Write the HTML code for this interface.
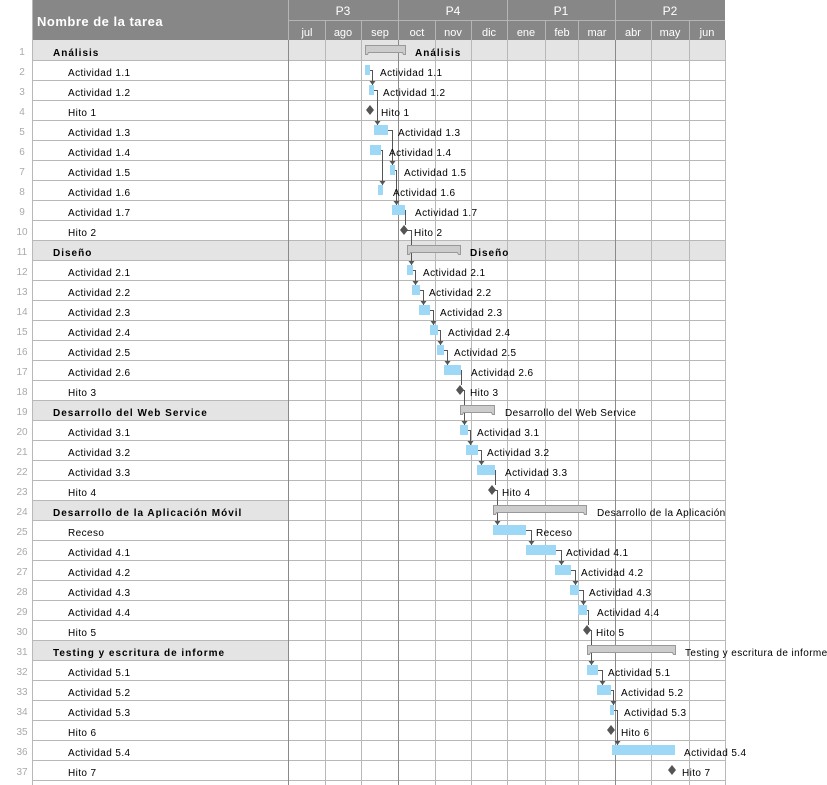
<!DOCTYPE html>
<html><head><meta charset="utf-8"><style>
html,body{margin:0;padding:0;background:#fff;}
svg{display:block;}
text{font-family:"Liberation Sans",sans-serif;}
.n{font-size:10px;fill:#aaa;text-anchor:middle;}
.t{font-size:10px;fill:#000;letter-spacing:0.4px;}
.g{font-size:10px;fill:#000;font-weight:bold;letter-spacing:1px;}
.l{font-size:10px;fill:#000;letter-spacing:0.4px;}
.b{fill:#9dd9f6;}
.s{fill:#cccccc;stroke:#999;stroke-width:1;}
.c{fill:none;stroke:#555;stroke-width:1;}
.a{fill:#555;}
.d{fill:#555;}
</style></head><body>
<svg width="827" height="785" viewBox="0 0 827 785" xmlns="http://www.w3.org/2000/svg">
<rect x="32" y="0" width="693" height="40" fill="#878787"/>
<g stroke="#b5b5b5" stroke-width="1">
<line x1="288" y1="20.5" x2="725" y2="20.5"/>
<line x1="288.5" y1="0" x2="288.5" y2="40"/>
<line x1="398.5" y1="0" x2="398.5" y2="40"/>
<line x1="507.5" y1="0" x2="507.5" y2="40"/>
<line x1="615.5" y1="0" x2="615.5" y2="40"/>
<line x1="325.5" y1="20" x2="325.5" y2="40"/>
<line x1="361.5" y1="20" x2="361.5" y2="40"/>
<line x1="435.5" y1="20" x2="435.5" y2="40"/>
<line x1="471.5" y1="20" x2="471.5" y2="40"/>
<line x1="545.5" y1="20" x2="545.5" y2="40"/>
<line x1="578.5" y1="20" x2="578.5" y2="40"/>
<line x1="651.5" y1="20" x2="651.5" y2="40"/>
<line x1="689.5" y1="20" x2="689.5" y2="40"/>
</g>
<text x="37" y="26" fill="#fff" font-size="13" font-weight="bold" letter-spacing="0.5">Nombre de la tarea</text>
<g fill="#fff" font-size="12" text-anchor="middle">
<text x="343" y="15">P3</text><text x="453" y="15">P4</text><text x="561" y="15">P1</text><text x="670" y="15">P2</text>
</g>
<g fill="#fff" font-size="11" text-anchor="middle">
<text x="307" y="36">jul</text><text x="343" y="36">ago</text><text x="380" y="36">sep</text><text x="417" y="36">oct</text><text x="453" y="36">nov</text><text x="489" y="36">dic</text><text x="526" y="36">ene</text><text x="562" y="36">feb</text><text x="597" y="36">mar</text><text x="633" y="36">abr</text><text x="670" y="36">may</text><text x="707" y="36">jun</text>
</g>
<rect x="32" y="40" width="693" height="20" fill="#e4e4e4"/>
<rect x="32" y="240" width="693" height="20" fill="#e4e4e4"/>
<rect x="32" y="400" width="256" height="20" fill="#e4e4e4"/>
<rect x="32" y="500" width="256" height="20" fill="#e4e4e4"/>
<rect x="32" y="640" width="256" height="20" fill="#e4e4e4"/>
<g stroke="#b8b8b8" stroke-width="1">
<line x1="32" y1="60.5" x2="725" y2="60.5"/><line x1="32" y1="80.5" x2="725" y2="80.5"/><line x1="32" y1="100.5" x2="725" y2="100.5"/><line x1="32" y1="120.5" x2="725" y2="120.5"/><line x1="32" y1="140.5" x2="725" y2="140.5"/><line x1="32" y1="160.5" x2="725" y2="160.5"/><line x1="32" y1="180.5" x2="725" y2="180.5"/><line x1="32" y1="200.5" x2="725" y2="200.5"/><line x1="32" y1="220.5" x2="725" y2="220.5"/><line x1="32" y1="240.5" x2="725" y2="240.5"/><line x1="32" y1="260.5" x2="725" y2="260.5"/><line x1="32" y1="280.5" x2="725" y2="280.5"/><line x1="32" y1="300.5" x2="725" y2="300.5"/><line x1="32" y1="320.5" x2="725" y2="320.5"/><line x1="32" y1="340.5" x2="725" y2="340.5"/><line x1="32" y1="360.5" x2="725" y2="360.5"/><line x1="32" y1="380.5" x2="725" y2="380.5"/><line x1="32" y1="400.5" x2="725" y2="400.5"/><line x1="32" y1="420.5" x2="725" y2="420.5"/><line x1="32" y1="440.5" x2="725" y2="440.5"/><line x1="32" y1="460.5" x2="725" y2="460.5"/><line x1="32" y1="480.5" x2="725" y2="480.5"/><line x1="32" y1="500.5" x2="725" y2="500.5"/><line x1="32" y1="520.5" x2="725" y2="520.5"/><line x1="32" y1="540.5" x2="725" y2="540.5"/><line x1="32" y1="560.5" x2="725" y2="560.5"/><line x1="32" y1="580.5" x2="725" y2="580.5"/><line x1="32" y1="600.5" x2="725" y2="600.5"/><line x1="32" y1="620.5" x2="725" y2="620.5"/><line x1="32" y1="640.5" x2="725" y2="640.5"/><line x1="32" y1="660.5" x2="725" y2="660.5"/><line x1="32" y1="680.5" x2="725" y2="680.5"/><line x1="32" y1="700.5" x2="725" y2="700.5"/><line x1="32" y1="720.5" x2="725" y2="720.5"/><line x1="32" y1="740.5" x2="725" y2="740.5"/><line x1="32" y1="760.5" x2="725" y2="760.5"/><line x1="32" y1="780.5" x2="725" y2="780.5"/>
</g>
<g stroke="#b8b8b8" stroke-width="1">
<line x1="325.5" y1="40" x2="325.5" y2="785"/><line x1="361.5" y1="40" x2="361.5" y2="785"/><line x1="435.5" y1="40" x2="435.5" y2="785"/><line x1="471.5" y1="40" x2="471.5" y2="785"/><line x1="545.5" y1="40" x2="545.5" y2="785"/><line x1="578.5" y1="40" x2="578.5" y2="785"/><line x1="651.5" y1="40" x2="651.5" y2="785"/><line x1="689.5" y1="40" x2="689.5" y2="785"/><line x1="725.5" y1="40" x2="725.5" y2="785"/>
<line x1="507.5" y1="40" x2="507.5" y2="785"/>
<line x1="32.5" y1="0" x2="32.5" y2="785"/>
</g>
<g stroke="#8a8a8a" stroke-width="1">
<line x1="288.5" y1="40" x2="288.5" y2="785"/>
<line x1="398.5" y1="40" x2="398.5" y2="785"/>
<line x1="615.5" y1="40" x2="615.5" y2="785"/>
</g>
<g class="n" transform="translate(0,1)">
<text x="22" y="54">1</text><text x="22" y="74">2</text><text x="22" y="94">3</text><text x="22" y="114">4</text><text x="22" y="134">5</text><text x="22" y="154">6</text><text x="22" y="174">7</text><text x="22" y="194">8</text><text x="22" y="214">9</text><text x="22" y="234">10</text><text x="22" y="254">11</text><text x="22" y="274">12</text><text x="22" y="294">13</text><text x="22" y="314">14</text><text x="22" y="334">15</text><text x="22" y="354">16</text><text x="22" y="374">17</text><text x="22" y="394">18</text><text x="22" y="414">19</text><text x="22" y="434">20</text><text x="22" y="454">21</text><text x="22" y="474">22</text><text x="22" y="494">23</text><text x="22" y="514">24</text><text x="22" y="534">25</text><text x="22" y="554">26</text><text x="22" y="574">27</text><text x="22" y="594">28</text><text x="22" y="614">29</text><text x="22" y="634">30</text><text x="22" y="654">31</text><text x="22" y="674">32</text><text x="22" y="694">33</text><text x="22" y="714">34</text><text x="22" y="734">35</text><text x="22" y="754">36</text><text x="22" y="774">37</text>
</g>
<g transform="translate(0,1)">
<text class="g" x="53" y="55">Análisis</text>
<text class="t" x="68" y="75">Actividad 1.1</text>
<text class="t" x="68" y="95">Actividad 1.2</text>
<text class="t" x="68" y="115">Hito 1</text>
<text class="t" x="68" y="135">Actividad 1.3</text>
<text class="t" x="68" y="155">Actividad 1.4</text>
<text class="t" x="68" y="175">Actividad 1.5</text>
<text class="t" x="68" y="195">Actividad 1.6</text>
<text class="t" x="68" y="215">Actividad 1.7</text>
<text class="t" x="68" y="235">Hito 2</text>
<text class="g" x="53" y="255">Diseño</text>
<text class="t" x="68" y="275">Actividad 2.1</text>
<text class="t" x="68" y="295">Actividad 2.2</text>
<text class="t" x="68" y="315">Actividad 2.3</text>
<text class="t" x="68" y="335">Actividad 2.4</text>
<text class="t" x="68" y="355">Actividad 2.5</text>
<text class="t" x="68" y="375">Actividad 2.6</text>
<text class="t" x="68" y="395">Hito 3</text>
<text class="g" x="53" y="415">Desarrollo del Web Service</text>
<text class="t" x="68" y="435">Actividad 3.1</text>
<text class="t" x="68" y="455">Actividad 3.2</text>
<text class="t" x="68" y="475">Actividad 3.3</text>
<text class="t" x="68" y="495">Hito 4</text>
<text class="g" x="53" y="515">Desarrollo de la Aplicación Móvil</text>
<text class="t" x="68" y="535">Receso</text>
<text class="t" x="68" y="555">Actividad 4.1</text>
<text class="t" x="68" y="575">Actividad 4.2</text>
<text class="t" x="68" y="595">Actividad 4.3</text>
<text class="t" x="68" y="615">Actividad 4.4</text>
<text class="t" x="68" y="635">Hito 5</text>
<text class="g" x="53" y="655">Testing y escritura de informe</text>
<text class="t" x="68" y="675">Actividad 5.1</text>
<text class="t" x="68" y="695">Actividad 5.2</text>
<text class="t" x="68" y="715">Actividad 5.3</text>
<text class="t" x="68" y="735">Hito 6</text>
<text class="t" x="68" y="755">Actividad 5.4</text>
<text class="t" x="68" y="775">Hito 7</text>
</g>
<g class="c">
<path d="M370,70.5H372.5V85"/><path d="M374,90.5H377.5V125"/><path d="M388,130.5H392.5V165"/><path d="M381,150.5H382.5V185"/><path d="M395,170.5H396.5V205"/><path d="M405,210.5H405.5V225"/><path d="M404,230.5H411.5V265"/><path d="M413,270.5H415.5V285"/><path d="M420,290.5H423.5V305"/><path d="M430,310.5H433.5V325"/><path d="M438,330.5H440.5V345"/><path d="M444,350.5H447.5V365"/><path d="M461,370.5H461.5V385"/><path d="M460,390.5H464.5V425"/><path d="M468,430.5H470.5V445"/><path d="M478,450.5H481.5V465"/><path d="M495,470.5H495.5V485"/><path d="M492,490.5H497.5V525"/><path d="M526,530.5H531.5V545"/><path d="M556,550.5H561.5V565"/><path d="M571,570.5H575.5V585"/><path d="M579,590.5H583.5V605"/><path d="M587,610.5H588.5V625"/><path d="M587,630.5H591.5V665"/><path d="M598,670.5H602.5V685"/><path d="M611,690.5H613.5V705"/><path d="M614,710.5H617.5V745"/>
</g>
<g class="a">
<polygon points="369.5,81 375.5,81 372.5,85"/><polygon points="374.5,121 380.5,121 377.5,125"/><polygon points="389.5,161 395.5,161 392.5,165"/><polygon points="379.5,181 385.5,181 382.5,185"/><polygon points="393.5,201 399.5,201 396.5,205"/><polygon points="408.5,261 414.5,261 411.5,265"/><polygon points="412.5,281 418.5,281 415.5,285"/><polygon points="420.5,301 426.5,301 423.5,305"/><polygon points="430.5,321 436.5,321 433.5,325"/><polygon points="437.5,341 443.5,341 440.5,345"/><polygon points="444.5,361 450.5,361 447.5,365"/><polygon points="461.5,421 467.5,421 464.5,425"/><polygon points="467.5,441 473.5,441 470.5,445"/><polygon points="478.5,461 484.5,461 481.5,465"/><polygon points="494.5,521 500.5,521 497.5,525"/><polygon points="528.5,541 534.5,541 531.5,545"/><polygon points="558.5,561 564.5,561 561.5,565"/><polygon points="572.5,581 578.5,581 575.5,585"/><polygon points="580.5,601 586.5,601 583.5,605"/><polygon points="588.5,661 594.5,661 591.5,665"/><polygon points="599.5,681 605.5,681 602.5,685"/><polygon points="610.5,701 616.5,701 613.5,705"/><polygon points="614.5,741 620.5,741 617.5,745"/>
</g>
<g class="s">
<path d="M365.5,45.5H405.5V54.5H403.5L402.5,52.5H368.5L367.5,54.5H365.5Z"/>
<path d="M407.5,245.5H460.5V254.5H458.5L457.5,252.5H410.5L409.5,254.5H407.5Z"/>
<path d="M460.5,405.5H494.5V414.5H492.5L491.5,412.5H463.5L462.5,414.5H460.5Z"/>
<path d="M493.5,505.5H586.5V514.5H584.5L583.5,512.5H496.5L495.5,514.5H493.5Z"/>
<path d="M587.5,645.5H675.5V654.5H673.5L672.5,652.5H590.5L589.5,654.5H587.5Z"/>
</g>
<g class="b">
<rect x="365" y="65" width="5" height="10"/><rect x="369" y="85" width="5" height="10"/><rect x="374" y="125" width="14" height="10"/><rect x="370" y="145" width="11" height="10"/><rect x="390" y="165" width="5" height="10"/><rect x="378" y="185" width="5" height="10"/><rect x="392" y="205" width="13" height="10"/>
<rect x="407" y="265" width="6" height="10"/><rect x="412" y="285" width="8" height="10"/><rect x="419" y="305" width="11" height="10"/><rect x="430" y="325" width="8" height="10"/><rect x="437" y="345" width="7" height="10"/><rect x="444" y="365" width="17" height="10"/>
<rect x="460" y="425" width="8" height="10"/><rect x="466" y="445" width="12" height="10"/><rect x="477" y="465" width="18" height="10"/>
<rect x="493" y="525" width="33" height="10"/><rect x="526" y="545" width="30" height="10"/><rect x="555" y="565" width="16" height="10"/><rect x="570" y="585" width="9" height="10"/><rect x="578" y="605" width="9" height="10"/>
<rect x="587" y="665" width="11" height="10"/><rect x="597" y="685" width="14" height="10"/><rect x="610" y="705" width="4" height="10"/><rect x="612" y="745" width="63" height="10"/>
</g>
<g class="d">
<polygon points="370,105 374,110 370,115 366,110"/><polygon points="404,225 408,230 404,235 400,230"/><polygon points="460,385 464,390 460,395 456,390"/><polygon points="492,485 496,490 492,495 488,490"/><polygon points="587,625 591,630 587,635 583,630"/><polygon points="611,725 615,730 611,735 607,730"/><polygon points="672,765 676,770 672,775 668,770"/>
</g>
<g transform="translate(0,1)">
<text class="g" x="415" y="55">Análisis</text>
<text class="l" x="380" y="75">Actividad 1.1</text>
<text class="l" x="383" y="95">Actividad 1.2</text>
<text class="l" x="381" y="115">Hito 1</text>
<text class="l" x="398" y="135">Actividad 1.3</text>
<text class="l" x="389" y="155">Actividad 1.4</text>
<text class="l" x="404" y="175">Actividad 1.5</text>
<text class="l" x="393" y="195">Actividad 1.6</text>
<text class="l" x="415" y="215">Actividad 1.7</text>
<text class="l" x="414" y="235">Hito 2</text>
<text class="g" x="470" y="255">Diseño</text>
<text class="l" x="423" y="275">Actividad 2.1</text>
<text class="l" x="429" y="295">Actividad 2.2</text>
<text class="l" x="440" y="315">Actividad 2.3</text>
<text class="l" x="448" y="335">Actividad 2.4</text>
<text class="l" x="454" y="355">Actividad 2.5</text>
<text class="l" x="471" y="375">Actividad 2.6</text>
<text class="l" x="470" y="395">Hito 3</text>
<text class="l" x="505" y="415">Desarrollo del Web Service</text>
<text class="l" x="477" y="435">Actividad 3.1</text>
<text class="l" x="487" y="455">Actividad 3.2</text>
<text class="l" x="505" y="475">Actividad 3.3</text>
<text class="l" x="502" y="495">Hito 4</text>
<text class="l" x="597" y="515">Desarrollo de la Aplicación</text>
<text class="l" x="536" y="535">Receso</text>
<text class="l" x="566" y="555">Actividad 4.1</text>
<text class="l" x="581" y="575">Actividad 4.2</text>
<text class="l" x="589" y="595">Actividad 4.3</text>
<text class="l" x="597" y="615">Actividad 4.4</text>
<text class="l" x="596" y="635">Hito 5</text>
<text class="l" x="685" y="655" letter-spacing="0">Testing y escritura de informe</text>
<text class="l" x="608" y="675">Actividad 5.1</text>
<text class="l" x="621" y="695">Actividad 5.2</text>
<text class="l" x="624" y="715">Actividad 5.3</text>
<text class="l" x="621" y="735">Hito 6</text>
<text class="l" x="684" y="755">Actividad 5.4</text>
<text class="l" x="682" y="775">Hito 7</text>
</g>
</svg>
</body></html>
